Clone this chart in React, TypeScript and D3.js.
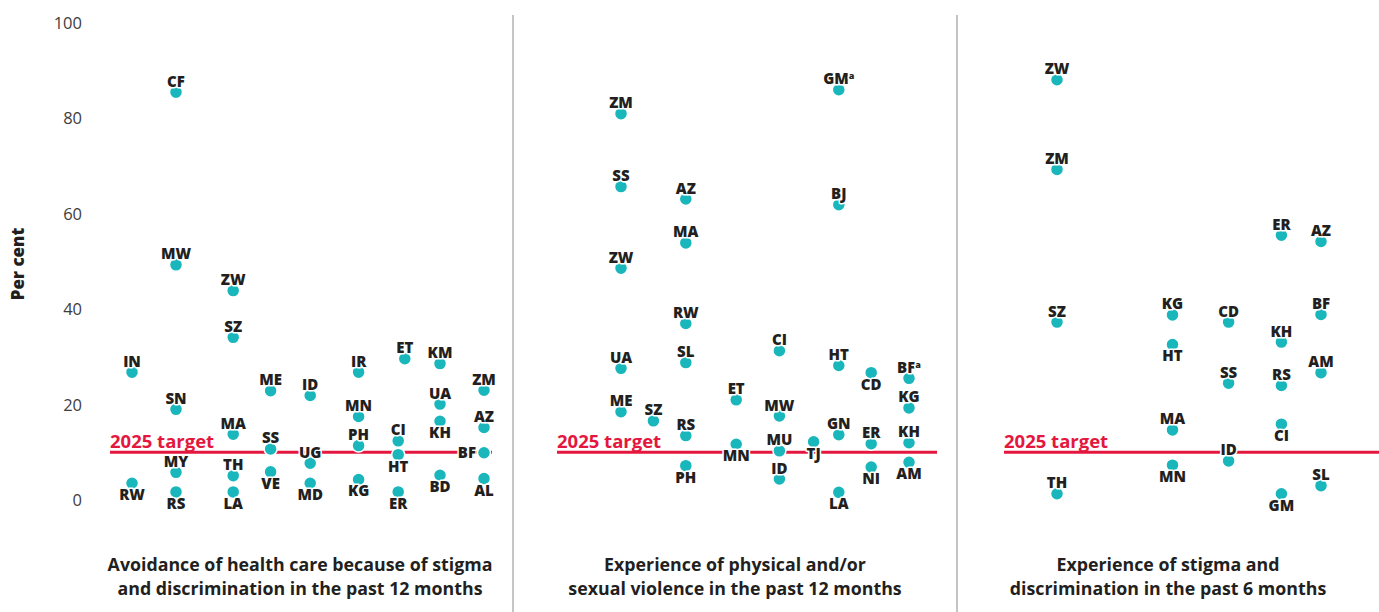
import React from "react";
import * as d3 from "d3";

// ---------- DATA ----------
const Y_TICKS = [0, 20, 40, 60, 80, 100];
const TARGET = 10;
const TARGET_LABEL = "2025 target";
const Y_TITLE = "Per cent";

// Panel 1: Avoidance of health care
const p1Codes = ["IN", "RW", "CF", "MW", "SN", "MY", "RS", "ZW", "SZ", "MA", "TH", "LA", "ME", "SS", "VE", "ID", "UG", "MD", "IR", "MN", "PH", "KG", "ET", "CI", "HT", "ER", "KM", "UA", "KH", "BD", "ZM", "AZ", "BF", "AL"];
const p1Values = [26.8, 3.5, 85.5, 49.3, 19.0, 5.8, 1.7, 43.9, 34.1, 13.8, 5.1, 1.7, 22.9, 10.7, 5.9, 21.9, 7.7, 3.5, 26.8, 17.5, 11.4, 4.3, 29.6, 12.4, 9.5, 1.7, 28.6, 20.1, 16.5, 5.2, 23.0, 15.2, 9.9, 4.5];
const p1Cols = [0, 0, 1, 1, 1, 1, 1, 2.3, 2.3, 2.3, 2.3, 2.3, 3.15, 3.15, 3.15, 4.05, 4.05, 4.05, 5.15, 5.15, 5.15, 5.15, 6.2, 6.05, 6.05, 6.05, 7, 7, 7, 7, 8, 8, 8, 8];
const p1Sides = ["t", "b", "t", "t", "t", "t", "b", "t", "t", "t", "t", "b", "t", "t", "b", "t", "t", "b", "t", "t", "t", "b", "t", "t", "b", "b", "t", "t", "b", "b", "t", "t", "l", "b"];

// Panel 2: Experience of physical and/or sexual violence
const p2Codes = ["ZM", "SS", "ZW", "UA", "ME", "SZ", "AZ", "MA", "RW", "SL", "RS", "PH", "ET", "MN", "CI", "MW", "MU", "ID", "TJ", "GM", "BJ", "HT", "GN", "LA", "CD", "ER", "NI", "BF", "KG", "KH", "AM"];
const p2Values = [81.0, 65.7, 48.6, 27.6, 18.5, 16.6, 63.1, 53.9, 37.0, 28.8, 13.5, 7.2, 21.0, 11.7, 31.3, 17.6, 10.3, 4.4, 12.2, 86.0, 61.9, 28.2, 13.7, 1.6, 26.7, 11.8, 6.9, 25.5, 19.3, 12.0, 7.9];
const p2Cols = [0, 0, 0, 0, 0, 0.9, 1.8, 1.8, 1.8, 1.8, 1.8, 1.8, 3.2, 3.2, 4.4, 4.4, 4.4, 4.4, 5.35, 6.05, 6.05, 6.05, 6.05, 6.05, 6.95, 6.95, 6.95, 8, 8, 8, 8];
const p2Sides = ["t", "t", "t", "t", "t", "t", "t", "t", "t", "t", "t", "b", "t", "b", "t", "t", "t", "t", "b", "t", "t", "t", "t", "b", "b", "t", "b", "t", "t", "t", "b"];
const p2Notes: Record<string, string> = { GM: "a", BF: "a" };

// Panel 3: Experience of stigma and discrimination
const p3Codes = ["ZW", "ZM", "SZ", "TH", "KG", "HT", "MA", "MN", "CD", "SS", "ID", "ER", "KH", "RS", "CI", "GM", "AZ", "BF", "AM", "SL"];
const p3Values = [88.1, 69.3, 37.3, 1.3, 38.8, 32.6, 14.7, 7.3, 37.3, 24.5, 8.2, 55.5, 33.1, 24.0, 15.9, 1.3, 54.2, 38.9, 26.7, 3.0];
const p3Cols = [0, 0, 0, 0, 3.5, 3.5, 3.5, 3.5, 5.2, 5.2, 5.2, 6.8, 6.8, 6.8, 6.8, 6.8, 8, 8, 8, 8];
const p3Sides = ["t", "t", "t", "t", "t", "b", "t", "b", "t", "t", "t", "t", "t", "t", "b", "b", "t", "t", "t", "t"];

const titles = [
  ["Avoidance of health care because of stigma", "and discrimination in the past 12 months"],
  ["Experience of physical and/or", "sexual violence in the past 12 months"],
  ["Experience of stigma and", "discrimination in the past 6 months"],
];

// ---------- LAYOUT ----------
const W = 1379;
const H = 612;
const FONT = "'Open Sans', Lato, sans-serif";
const TEAL = "#19b6bb";
const RED = "#e4173e";
const INK = "#231f20";

const yScale = d3.scaleLinear().domain([0, 100]).range([500, 23]);

const panels = [
  { codes: p1Codes, values: p1Values, cols: p1Cols, sides: p1Sides, notes: {} as Record<string, string>, xr: [132, 484], line: [110, 492], center: 300 },
  { codes: p2Codes, values: p2Values, cols: p2Cols, sides: p2Sides, notes: p2Notes, xr: [621, 909], line: [557, 937], center: 735 },
  { codes: p3Codes, values: p3Values, cols: p3Cols, sides: p3Sides, notes: {} as Record<string, string>, xr: [1057, 1321], line: [1004, 1379], center: 1168 },
];
const dividers = [513, 957];

function Label({ x, y, side, code, note }: { x: number; y: number; side: string; code: string; note?: string }) {
  let tx = x;
  let ty = y - 5.5;
  let anchor: "middle" | "end" = "middle";
  if (side === "b") ty = y + 17;
  if (side === "l") {
    tx = x - 8;
    ty = y + 5.5;
    anchor = "end";
  }
  return (
    <text
      x={tx}
      y={ty}
      textAnchor={anchor}
      fontFamily={FONT}
      fontWeight={800}
      fontSize={15}
      fill={INK}
      stroke="#fff"
      strokeWidth={3}
      strokeLinejoin="round"
      style={{ paintOrder: "stroke" }}
    >
      {code}
      {note ? (
        <tspan fontSize={9} dy={-5}>
          {note}
        </tspan>
      ) : null}
    </text>
  );
}

export default function App() {
  return (
    <svg width={W} height={H} style={{ position: "absolute", left: 0, top: 0, background: "#fff" }}>
      {/* y axis ticks */}
      {Y_TICKS.map((t) => (
        <text key={t} x={82} y={yScale(t)} dy="0.36em" textAnchor="end" fontFamily={FONT} fontWeight={400} fontSize={16.5} fill="#3d3d3d">
          {t}
        </text>
      ))}
      <text transform={`translate(24,${264}) rotate(-90)`} textAnchor="middle" fontFamily={FONT} fontWeight={800} fontSize={17} fill={INK}>
        {Y_TITLE}
      </text>

      {/* dividers */}
      {dividers.map((dx) => (
        <line key={dx} x1={dx} x2={dx} y1={15} y2={H} stroke="#8a8a8a" strokeWidth={1} />
      ))}

      {panels.map((p, pi) => {
        const xs = d3.scaleLinear().domain([0, 8]).range(p.xr);
        return (
          <g key={pi}>
            <line x1={p.line[0]} x2={p.line[1]} y1={yScale(TARGET)} y2={yScale(TARGET)} stroke={RED} strokeWidth={3} />
            <text x={p.line[0]} y={yScale(TARGET) - 4.6} fontFamily={FONT} fontWeight={700} fontSize={18.5} fill={RED}>
              {TARGET_LABEL}
            </text>
            {p.codes.map((c, i) => (
              <circle key={c} cx={xs(p.cols[i])} cy={yScale(p.values[i])} r={6.5} fill={TEAL} stroke="#fff" strokeWidth={1.5} />
            ))}
            {p.codes.map((c, i) => (
              <Label key={c} x={xs(p.cols[i])} y={yScale(p.values[i])} side={p.sides[i]} code={c} note={p.notes[c]} />
            ))}
            {titles[pi].map((line, li) => (
              <text key={li} x={p.center} y={571 + li * 23.5} textAnchor="middle" fontFamily={FONT} fontWeight={700} fontSize={17.8} fill={INK}>
                {line}
              </text>
            ))}
          </g>
        );
      })}
    </svg>
  );
}
